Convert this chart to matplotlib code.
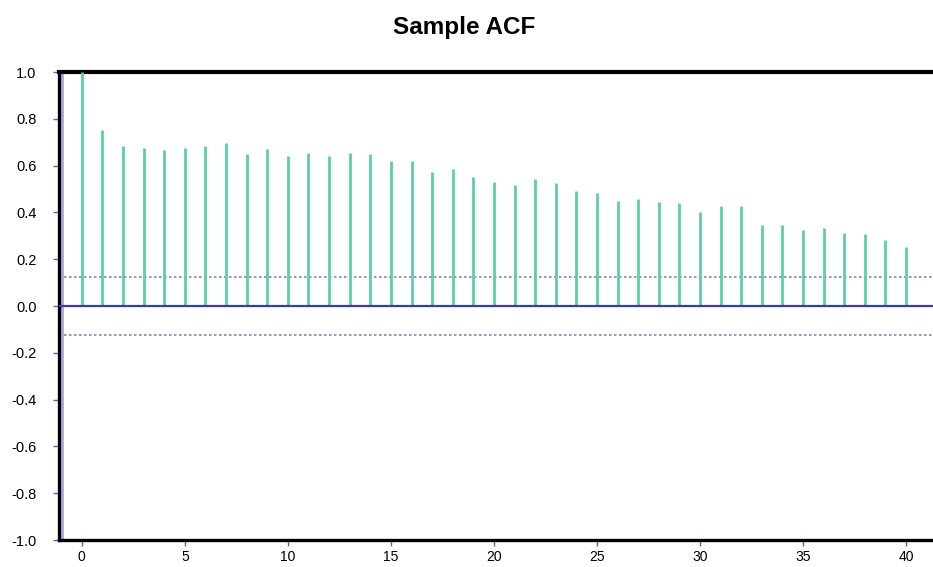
import numpy as np
import matplotlib.pyplot as plt

plt.rcParams['font.family'] = ['Liberation Sans', 'DejaVu Sans']

lags = np.arange(0, 41)
acf = [1.0, 0.752, 0.685, 0.675, 0.667, 0.675, 0.682, 0.695, 0.648, 0.670,
       0.641, 0.655, 0.641, 0.655, 0.648, 0.621, 0.621, 0.573, 0.584, 0.553,
       0.531, 0.517, 0.544, 0.524, 0.490, 0.481, 0.449, 0.456, 0.443, 0.439,
       0.400, 0.429, 0.429, 0.346, 0.346, 0.325, 0.332, 0.312, 0.309, 0.282,
       0.254]
conf_bound = 0.124
yticks = [-1.0, -0.8, -0.6, -0.4, -0.2, 0.0, 0.2, 0.4, 0.6, 0.8, 1.0]
xticks = [0, 5, 10, 15, 20, 25, 30, 35, 40]

fig = plt.figure(figsize=(9.33, 5.67), dpi=100)
ax = fig.add_axes([0.063, 0.0476, 0.95, 0.8254])

ax.vlines(lags, 0, acf, color='#5ccfa6', lw=2.0, zorder=3)
ax.axhline(0, color='#3a3aa8', lw=1.6, zorder=4)
ax.axhline(conf_bound, color='#8080d8', lw=1.2, ls=(0, (1.5, 1.5)), zorder=2)
ax.axhline(-conf_bound, color='#8080d8', lw=1.2, ls=(0, (1.5, 1.5)), zorder=2)
ax.axvline(-0.98, color='#a8a8e0', lw=2.0, zorder=2)

ax.set_xlim(-1.12, 41.9)
ax.set_ylim(-1.0, 1.0)
ax.set_yticks(yticks)
ax.set_yticklabels(['%.1f' % v for v in yticks])
ax.set_xticks(xticks)

for side in ['left', 'bottom']:
    ax.spines[side].set_linewidth(2.4)
ax.spines['top'].set_linewidth(3.0)
ax.spines['right'].set_visible(False)

ax.tick_params(axis='both', colors='#6060c0', length=4, width=1,
               labelsize=10.5, labelcolor='black')
ax.tick_params(axis='y', pad=12)
ax.tick_params(axis='x', pad=3, labelsize=10)

fig.text(0.498, 0.952, 'Sample ACF', ha='center', va='center',
         fontsize=17.5, fontweight='bold')

fig.savefig('out.png', dpi=100)
